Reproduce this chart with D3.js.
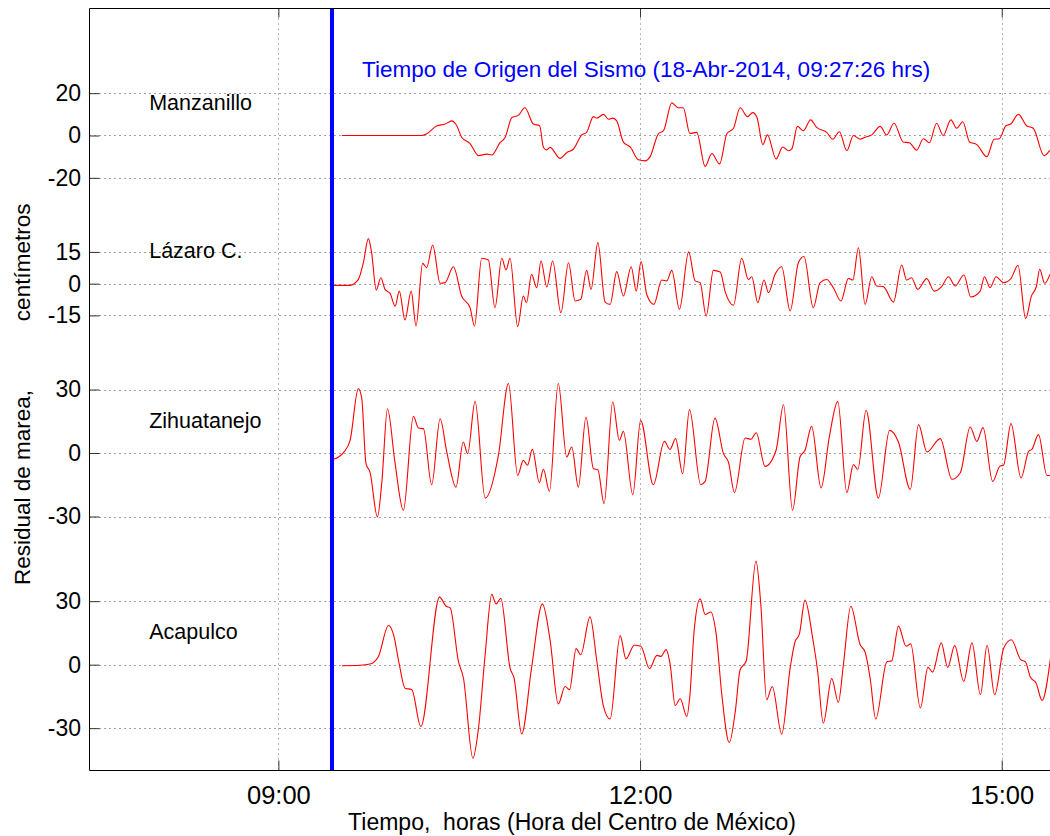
<!DOCTYPE html>
<html>
<head>
<meta charset="utf-8">
<script src="https://cdn.jsdelivr.net/npm/d3@7"></script>
<style>
html,body{margin:0;padding:0;background:#fff;overflow:hidden}
text{font-family:"Liberation Sans",Arial,Helvetica,sans-serif}
</style>
</head>
<body>
<svg id="chart" width="1050" height="836"></svg>
<script>
// ---------------- data ----------------
const stations = ["Manzanillo", "Lázaro C.", "Zihuatanejo", "Acapulco"];
const stationOffsets = [250, 180, 100, 0];          // vertical offset of each trace (cm)
const stationTicks = [[-20, 0, 20], [-15, 0, 15], [-30, 0, 30], [-30, 0, 30]];
const xTickMinutes = [0, 180, 360];                  // minutes after 09:00
const startHour = 9;
const originMinutes = 27 + 26 / 60;                  // 09:27:26
const titleText = "Tiempo de Origen del Sismo (18-Abr-2014, 09:27:26 hrs)";
const xLabel = "Tiempo,  horas (Hora del Centro de México)";
const yLabelParts = ["Residual de marea,", "   centímetros"];
const labelMinutes = -64.3;                          // station names at ~07:56
const labelValue = 12;

// [minutes after 09:00, residual cm]
const manzanillo = [[31.6,0],[71.3,0],[73.8,0.8],[78.9,4.6],[83.0,5.4],[86.3,6.9],[88.8,4.6],[91.2,-0.8],[95.4,-3.8],[99.6,-9.5],[103.7,-8.8],[106.2,-9.2],[110.3,-3.4],[112.9,-0.8],[116.2,8.5],[119.4,9.5],[122.7,13.1],[126.9,5.4],[130.0,4.6],[132.0,-5.8],[133.5,-6.8],[135.2,-5.6],[140.2,-10.8],[143.6,-8],[146.8,-6.5],[151.0,0.3],[153.4,1.5],[156.8,8.9],[158.5,8.2],[161.8,10],[164.3,7.7],[166.4,8.2],[168.4,6.9],[171.7,-3.1],[175.1,-5.4],[179.2,-11.5],[182.5,-12],[185.0,-10],[189.1,0.8],[191.7,2.3],[195.8,15.4],[199.1,13.1],[201.5,13.1],[204.8,1.0],[208.2,1.5],[212.4,-14.6],[215.7,-8.5],[219.6,-13.4],[223.2,0.8],[226.5,3.4],[229.8,13.1],[233.5,8.9],[236.1,10.8],[238.2,8.5],[241.1,-4.3],[243.4,0.3],[247.7,-11.1],[251.0,-5.4],[253.9,-7.2],[255.6,-6.2],[258.3,4.3],[261.3,2.3],[264.9,7.4],[267.9,3.8],[272.9,1.5],[275.9,-1.8],[279.2,1.8],[282.9,-7.2],[286.2,0],[289.5,-1.8],[292.0,-0.8],[295.3,0.3],[299.5,4.3],[302.8,0.3],[306.4,5.8],[311.0,-3.1],[314.0,-3.4],[317.7,-6.9],[321.0,-1.5],[324.0,-3.4],[327.6,5.8],[330.9,0],[334.7,7.4],[337.6,3.4],[340.6,6.5],[344.0,-3.1],[347.6,-4.3],[352.6,-10],[356.2,-1.8],[358.8,-1.5],[362.1,4.6],[364.5,5.4],[368.3,10],[372.4,4.6],[375.7,3.4],[381.1,-9.5],[384.0,-6.9]];

const lazaro = [[27.4,-0.8],[35.7,-0.8],[39.8,2],[42.3,9.9],[44.8,21.3],[46.4,14.6],[48.7,-3],[51.0,2.8],[53.1,-2.7],[55.6,-4.6],[58.1,-10.6],[60.2,-3.5],[63.0,-17.2],[66.1,-3.5],[68.5,-20],[71.8,9.6],[73.8,7.6],[76.8,18.3],[80.5,0.2],[83.0,0.5],[87.1,8],[91.2,-5.8],[95.4,-11.3],[97.6,-20],[101.2,12],[104.5,11.2],[107.8,-11.3],[111.2,12],[113.3,6.5],[115.3,12],[119.1,-20.3],[121.9,-5.8],[123.5,-9],[126.0,4.4],[128.6,-1.9],[130.7,10.7],[133.6,-1.6],[136.5,10.7],[140.6,-13.7],[144.4,9.9],[147.7,-8.2],[150.5,-7.4],[153.4,6.3],[155.6,-2.7],[159.0,19.4],[162.6,-8.7],[165.1,-9.8],[168.4,5.7],[171.7,-5.8],[175.6,8],[178.1,-3.5],[180.5,10.4],[183.3,-5],[186.9,-9.8],[190.8,1.7],[193.3,1.3],[195.8,6.3],[199.6,-12.1],[204.2,15],[207.4,1.3],[209.9,0.5],[212.9,-15.3],[216.5,6.3],[219.9,5.5],[222.4,-3.9],[226.5,-10.2],[230.6,12],[233.9,2],[235.6,3.3],[238.6,-9],[241.7,1.7],[243.9,-4.3],[247.2,4.4],[250.5,8],[254.7,-12.9],[258.8,9.9],[261.6,12.8],[266.2,-11.3],[269.6,0.5],[272.9,2],[276.2,-1.9],[280.0,-8.2],[283.7,2.5],[285.9,1.7],[288.7,17],[292.0,-9.8],[295.3,3.3],[297.8,-1.1],[301.1,-1.4],[306.1,-8.7],[310.2,8.8],[312.7,1.7],[315.1,2.8],[318.2,-2.7],[322.7,2.4],[326.4,-3.5],[330.1,-1.4],[333.5,3.3],[336.8,-1.1],[341.2,4.1],[344.6,-6.3],[349.3,-3.5],[351.4,3.3],[354.2,-1.9],[357.2,3.3],[360.8,0.5],[364.6,2.4],[368.1,8.7],[371.9,-16.5],[374.8,-5.8],[377.3,-1.1],[378.9,6.8],[381.4,0.2],[384.0,4.4]];

const zihuatanejo = [[27.4,-3],[32.4,0.2],[35.7,6],[39.8,30.4],[41.5,25.7],[43.6,-5],[45.6,-9],[49.3,-30.2],[51.5,-13.7],[54.3,20.9],[58.0,-4.3],[62.2,-27.1],[67.2,17.3],[69.7,11.8],[72.2,11.5],[76.3,-15],[80.5,16.2],[83.8,0.5],[88.4,-16.1],[92.0,5.2],[94.2,-0.3],[97.9,24.4],[102.9,-21.3],[109.5,-1.1],[114.5,32.8],[119.1,-10.6],[121.9,-3.5],[124.0,-5.8],[126.4,1.7],[129.9,-14],[131.9,-7.7],[134.9,-18.1],[139.3,32.8],[143.5,-1.9],[146.0,2.8],[149.3,-16.1],[153.1,17],[156.8,-7.4],[159.0,-7.9],[162.1,-23.9],[166.4,24.1],[169.7,6],[171.7,10.2],[176.4,-19.7],[180.3,15.4],[186.6,-15],[192.1,5.5],[194.9,1.7],[197.7,6.8],[201.2,-9.8],[204.6,20.5],[210.2,-15],[212.4,-13.4],[217.3,16.5],[221.5,-0.3],[224.0,-4.3],[227.0,-18.7],[232.3,7.1],[235.2,6.5],[237.8,9.6],[242.2,-6.3],[247.7,1.3],[251.4,22.8],[255.9,-27.1],[259.6,-1.9],[262.1,1.3],[265.4,12.6],[270.1,-16.5],[274.2,7.6],[278.4,24.4],[282.9,-18.7],[286.2,-5.5],[288.4,-7.7],[292.5,20.2],[298.6,-21.3],[304.2,10.7],[308.6,5.2],[314.5,-17.2],[318.6,13.4],[322.8,0.5],[329.4,6.8],[335.2,-12.4],[339.4,-9.3],[344.3,12.3],[347.6,5.5],[350.7,12],[355.5,-13.4],[359.2,-6.1],[360.9,-5.8],[364.6,13.9],[369.6,-11.8],[373.4,0.8],[375.0,1.7],[378.3,8.7],[382.5,-10.6],[384.1,-10.6]];

const acapulco = [[31.6,-0.5],[40.7,-0.3],[45.6,0.3],[49.8,3.9],[54.8,18.5],[57.3,14.2],[60.2,0],[63.0,-11.1],[66.4,-11.8],[70.9,-29.2],[80.2,31.9],[83.5,27.6],[85.5,26.8],[89.6,1.6],[92.1,-6.3],[96.8,-44.2],[99.6,-30],[102.9,4.7],[106.2,33.2],[108.3,28.7],[110.7,31.3],[115.3,-1.6],[117.3,-6.3],[121.1,-32.7],[126.0,-1.6],[131.4,28.7],[135.2,11.8],[139.3,-18.6],[142.7,-10.3],[144.9,-11.8],[148.2,7.6],[150.5,4.7],[155.1,22.6],[158.5,1.6],[161.8,-19.7],[165.1,-25.7],[170.1,13.7],[173.0,2.7],[177.1,9.2],[180.4,8.7],[184.7,-1.9],[188.4,4.4],[190.4,3.9],[193.0,7.1],[195.0,0],[197.5,-19.3],[200.0,-16.1],[203.3,-24.5],[204.8,-14.6],[206.9,15.8],[209.9,31.1],[212.4,23.7],[215.2,24.9],[217.8,15],[220.7,-14.2],[224.4,-36.8],[227.4,-22.1],[229.8,-2.4],[232.8,1.6],[237.7,48.9],[240.1,28.4],[243.0,-16.6],[245.8,-10.3],[250.5,-32.8],[254.7,-1.6],[257.1,10.7],[259.3,14.5],[262.1,30.5],[265.9,12.6],[268.3,-2.4],[271.2,-27.6],[275.4,-6.6],[278.7,-17.8],[281.2,0],[284.9,27.6],[289.5,9.5],[292.0,6],[294.5,-6.3],[297.3,-25.7],[302.8,1.3],[305.3,1.9],[308.6,18.2],[312.4,8.7],[314.7,9.8],[319.5,-20.5],[323.3,-1.3],[325.6,-3.5],[329.9,10.3],[333.1,-1.3],[336.6,9],[341.1,-7.9],[345.2,10.3],[349.4,-14.2],[352.7,9.2],[356.5,-14.2],[361.0,7.9],[364.8,11.8],[369.4,2.4],[371.8,1.3],[374.3,-6],[377.1,-8.7],[380.1,-16.9],[384.3,3.2]];

const seriesData = [manzanillo, lazaro, zihuatanejo, acapulco];

// ---------------- layout ----------------
(function () {
const W = 1050;
const pLeft = 89.5, pTop = 8.5, pBottom = 770.5, pRight = 1062;
const svg = d3.select("#chart");

const x = d3.scaleLinear().domain([-94, 390]).range([pLeft, pRight]);
const y = d3.scaleLinear().domain([-50, 310]).range([pBottom, pTop]);

const fmtTime = m => {
  const tot = startHour * 60 + m;
  return d3.format("02d")(Math.floor(tot / 60)) + ":" + d3.format("02d")(Math.round(tot % 60));
};

const yTicks = [];
stationTicks.forEach((ts, i) => ts.forEach(v => yTicks.push({u: stationOffsets[i] + v, label: String(v)})));

// grid
const grid = svg.append("g");
grid.selectAll("line.h").data(yTicks).join("line")
  .attr("x1", pLeft).attr("x2", W)
  .attr("y1", d => Math.round(y(d.u)) + 0.5).attr("y2", d => Math.round(y(d.u)) + 0.5)
  .attr("stroke", "#444").attr("stroke-width", 1).attr("stroke-dasharray", "1,4");
grid.selectAll("line.v").data(xTickMinutes).join("line")
  .attr("x1", d => Math.round(x(d)) + 0.5).attr("x2", d => Math.round(x(d)) + 0.5)
  .attr("y1", pTop).attr("y2", pBottom)
  .attr("stroke", "#666").attr("stroke-width", 1).attr("stroke-dasharray", "1,4");

// series
seriesData.forEach((s, i) => {
  const line = d3.line()
    .x(d => x(d[0]))
    .y(d => y(stationOffsets[i] + d[1]))
    .curve(d3.curveMonotoneX);
  svg.append("path")
    .datum(s)
    .attr("fill", "none")
    .attr("stroke", "#ff0000")
    .attr("stroke-width", 1.1)
    .attr("d", line);
});

// origin line
svg.append("line")
  .attr("x1", x(originMinutes) - 1.5).attr("x2", x(originMinutes) - 1.5)
  .attr("y1", pTop).attr("y2", pBottom)
  .attr("stroke", "#0000ff").attr("stroke-width", 4);

svg.append("text")
  .attr("x", 362).attr("y", 77)
  .attr("fill", "#0000ff").attr("font-size", 22.5)
  .text(titleText);

// station labels
svg.selectAll("text.st").data(stations).join("text")
  .attr("class", "st")
  .attr("x", x(labelMinutes))
  .attr("y", (d, i) => y(stationOffsets[i] + labelValue))
  .attr("font-size", 21.5).attr("fill", "#000")
  .text(d => d);

// axes
const yAxis = d3.axisLeft(y)
  .tickValues(yTicks.map(d => d.u))
  .tickFormat(u => yTicks.find(t => t.u === u).label)
  .tickSizeInner(-10).tickSizeOuter(0).tickPadding(8.5);
const gy = svg.append("g").attr("transform", `translate(${pLeft},0)`).call(yAxis);
gy.select(".domain").remove();
gy.selectAll(".tick line").attr("stroke", "#333");
gy.selectAll("text").attr("font-size", 23).attr("fill", "#000")
  .attr("font-family", '"Liberation Sans",Arial,sans-serif');

const xAxis = d3.axisBottom(x)
  .tickValues(xTickMinutes)
  .tickFormat(fmtTime)
  .tickSizeInner(-10).tickSizeOuter(0).tickPadding(15);
const gx = svg.append("g").attr("transform", `translate(0,${pBottom})`).call(xAxis);
gx.select(".domain").remove();
gx.selectAll(".tick line").attr("stroke", "#333");
gx.selectAll("text").attr("font-size", 25.5).attr("fill", "#000")
  .attr("font-family", '"Liberation Sans",Arial,sans-serif');

// top ticks
const xTop = d3.axisTop(x).tickValues(xTickMinutes).tickFormat("").tickSizeInner(-9).tickSizeOuter(0);
const gt = svg.append("g").attr("transform", `translate(0,${pTop})`).call(xTop);
gt.select(".domain").remove();
gt.selectAll(".tick line").attr("stroke", "#333");

// frame
svg.append("path")
  .attr("d", `M${W},${pTop}H${pLeft}V${pBottom}H${W}`)
  .attr("fill", "none").attr("stroke", "#000").attr("stroke-width", 1);

// axis labels
svg.append("text")
  .attr("x", 572).attr("y", 830)
  .attr("text-anchor", "middle").attr("font-size", 23)
  .attr("xml:space", "preserve").style("white-space", "pre")
  .text(xLabel);

const yl = svg.append("text")
  .attr("transform", "translate(30,585) rotate(-90)")
  .attr("text-anchor", "start").attr("font-size", 22.5)
  .attr("xml:space", "preserve").style("white-space", "pre");
yl.append("tspan").text(yLabelParts[0]);
yl.append("tspan").attr("dx", 50).text(yLabelParts[1]);
})();
</script>
</body>
</html>
